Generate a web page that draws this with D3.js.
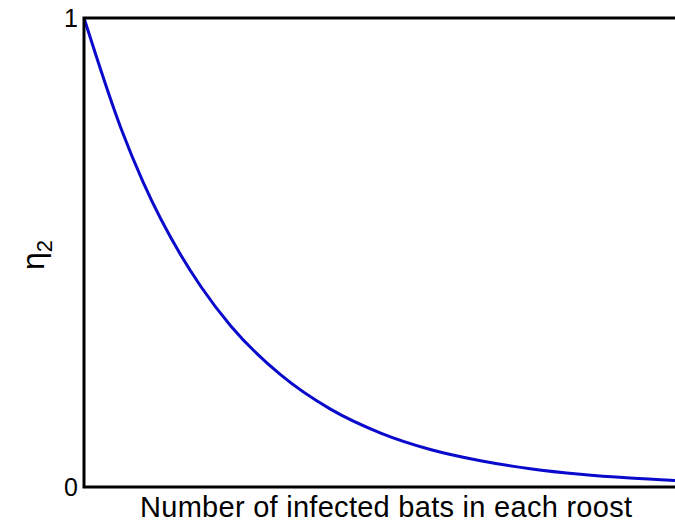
<!DOCTYPE html>
<html><head><meta charset="utf-8">
<script src="https://cdn.jsdelivr.net/npm/d3@7"></script>
<style>body{margin:0;background:#fff}</style></head>
<body><svg id="c" width="675" height="522"></svg>
<script>
const xs = [0,0.0625,0.1,0.164,0.198,0.248,0.333,0.417,0.502,0.586,0.671,0.755,0.840,0.924,1.0];
const ys = [1,0.765,0.65,0.494,0.427,0.344,0.239,0.166,0.115,0.080,0.056,0.039,0.027,0.019,0.014];
const yTicks = [0,1];
const xLabel = "Number of infected bats in each roost";
const svg = d3.select("#c");
const L=84,R=675,T=18,B=487;
const x=d3.scaleLinear().domain([0,1]).range([L,R]);
const y=d3.scaleLinear().domain([0,1]).range([B,T]);
const font="Liberation Sans, Arial, sans-serif";
svg.append("path").datum(xs.map((v,i)=>[v,ys[i]]))
 .attr("d",d3.line().x(d=>x(d[0])).y(d=>y(d[1])).curve(d3.curveMonotoneX))
 .attr("fill","none").attr("stroke","#0a0acc").attr("stroke-width",3);
svg.append("path").attr("d",`M${R},${T}H${L}V${B}H${R}`).attr("fill","none").attr("stroke","#000").attr("stroke-width",3);
svg.selectAll(".yt").data(yTicks).join("text").attr("x",L-6).attr("y",d=>y(d)+9)
 .attr("text-anchor","end").attr("font-family",font).attr("font-size",25).text(d=>d);
svg.append("text").attr("x",386).attr("y",517).attr("text-anchor","middle")
 .attr("font-family",font).attr("font-size",29).attr("textLength",492).text(xLabel);
const yl=svg.append("text").attr("transform","translate(44,255) rotate(-90)").attr("text-anchor","middle")
 .attr("font-family",font).attr("font-size",32);
yl.append("tspan").text("η");
yl.append("tspan").attr("font-size",22).attr("dy",8).text("2");
</script></body></html>
